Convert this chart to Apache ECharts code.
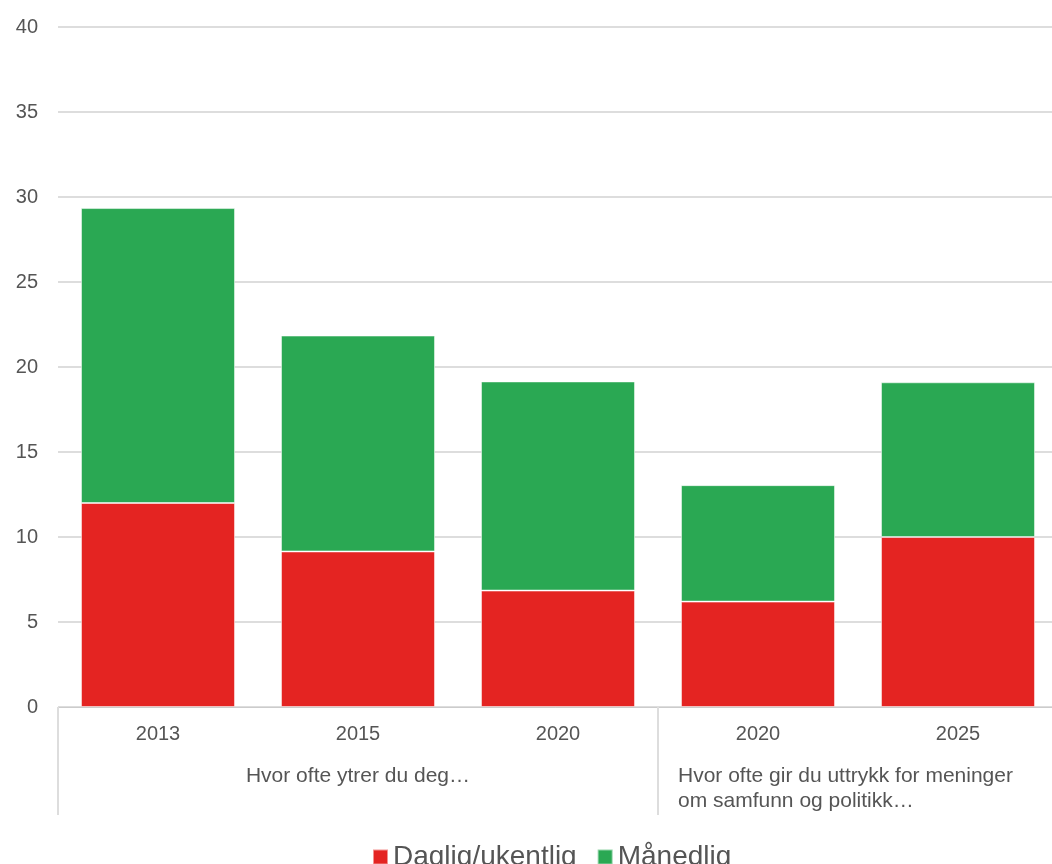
<!DOCTYPE html>
<html>
<head>
<meta charset="utf-8">
<script src="https://cdn.jsdelivr.net/npm/echarts@6/dist/echarts.min.js"></script>
<style>
  html, body { margin: 0; padding: 0; background: #fff; }
  #chart { width: 1052px; height: 864px; }
</style>
</head>
<body>
<div id="chart"></div>
<script>
var years = ['2013', '2015', '2020', '2020', '2025'];
var groupNames = ['Hvor ofte ytrer du deg…', 'Hvor ofte gir du uttrykk for meninger\nom samfunn og politikk…'];
var groupStart = [0, 3];
var dagligUkentlig = [12, 9.15, 6.85, 6.2, 10];
var maanedlig = [17.35, 12.7, 12.3, 6.85, 9.1];
var yTicks = [0, 40, 5];

var chart = echarts.init(document.getElementById('chart'));
var font = 'Liberation Sans, Arial, sans-serif';

var option = {
  animation: false,
  textStyle: { fontFamily: font },
  grid: { left: 58, width: 1000, top: 27, bottom: 157, outerBoundsMode: 'none', containLabel: false },
  legend: {
    top: 838,
    left: 367,
    itemWidth: 15,
    itemHeight: 15,
    itemGap: 20,
    icon: 'rect',
    textStyle: { fontSize: 28, color: '#555', fontFamily: font }
  },
  xAxis: {
    type: 'category',
    data: years,
    axisLine: { lineStyle: { color: '#ccc', width: 1 } },
    axisTick: {
      show: true,
      length: 108,
      lineStyle: { color: '#ddd', width: 2 },
      interval: function (i) { return groupStart.indexOf(i) >= 0; }
    },
    axisLabel: { fontSize: 20, color: '#555', margin: 17 }
  },
  yAxis: {
    type: 'value',
    min: yTicks[0],
    max: yTicks[1],
    interval: yTicks[2],
    axisLine: { show: false },
    axisTick: { show: false },
    axisLabel: { fontSize: 20, color: '#555', margin: 20 },
    splitLine: { lineStyle: { color: '#ddd', width: 2 } }
  },
  series: [
    {
      name: 'Daglig/ukentlig',
      type: 'bar',
      stack: 'total',
      data: dagligUkentlig,
      barWidth: '77%',
      itemStyle: { color: '#e42422', borderColor: 'rgba(255,255,255,0.5)', borderWidth: 1 }
    },
    {
      name: 'Månedlig',
      type: 'bar',
      stack: 'total',
      data: maanedlig,
      barWidth: '77%',
      itemStyle: { color: '#2aa853', borderColor: 'rgba(255,255,255,0.5)', borderWidth: 1 }
    }
  ]
};
chart.setOption(option);

// group labels under the year labels
var y0 = chart.convertToPixel({ yAxisIndex: 0 }, 0);
var c0 = chart.convertToPixel({ xAxisIndex: 0 }, 0);
var c1 = chart.convertToPixel({ xAxisIndex: 0 }, 1);
var step = c1 - c0;
var g = [];
groupNames.forEach(function (name, k) {
  var first = groupStart[k];
  var last = k + 1 < groupStart.length ? groupStart[k + 1] - 1 : years.length - 1;
  var left = chart.convertToPixel({ xAxisIndex: 0 }, first) - step / 2;
  var right = chart.convertToPixel({ xAxisIndex: 0 }, last) + step / 2;
  var multi = name.indexOf('\n') >= 0;
  g.push({
    type: 'text',
    x: multi ? left + 20 : (left + right) / 2,
    y: y0 + 57,
    style: {
      text: name,
      fill: '#555',
      font: '21px ' + font,
      align: multi ? 'left' : 'center',
      lineHeight: 25
    }
  });
});
chart.setOption({ graphic: g });
</script>
</body>
</html>
